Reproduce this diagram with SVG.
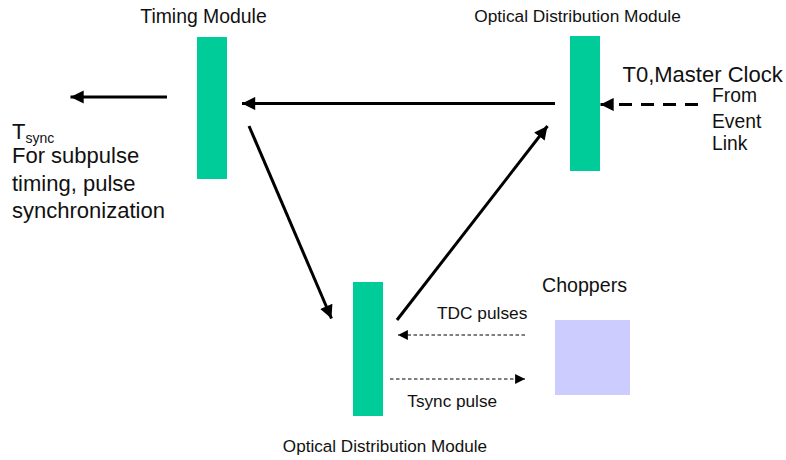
<svg xmlns="http://www.w3.org/2000/svg" width="786" height="460" viewBox="0 0 786 460">
<style>
text{font-family:"Liberation Sans",Arial,sans-serif;fill:#111}
.bar{fill:#00cc99}
.ln{stroke:#000;stroke-width:3;fill:none}
.dl{stroke:#000;stroke-width:1.1;fill:none;stroke-dasharray:3.5 2.5}
</style>
<defs>
<marker id="ah" viewBox="0 0 10 10" refX="10" refY="5" markerWidth="4.6" markerHeight="4.4" orient="auto" markerUnits="strokeWidth"><path d="M0,0L10,5L0,10z" fill="#000"/></marker>
<marker id="ahs" viewBox="0 0 10 10" refX="10" refY="5" markerWidth="9" markerHeight="9" orient="auto" markerUnits="strokeWidth"><path d="M0,0L10,5L0,10z" fill="#000"/></marker>
</defs>
<g id="timing-module">
<rect class="bar" x="197" y="37" width="30" height="142"/>
<text x="203.5" y="23" font-size="19.4" text-anchor="middle">Timing Module</text>
</g>
<g id="odm-top">
<rect class="bar" x="570" y="36" width="30" height="135"/>
<text x="577.5" y="22" font-size="17.3" text-anchor="middle">Optical Distribution Module</text>
</g>
<g id="odm-bottom">
<rect class="bar" x="353" y="282" width="30" height="134"/>
<text x="385" y="452" font-size="17.1" text-anchor="middle">Optical Distribution Module</text>
</g>
<g id="choppers">
<rect x="555" y="320" width="75" height="75" fill="#ccccff"/>
<text x="542" y="292" font-size="19.6">Choppers</text>
</g>
<g id="tsync-output">
<text x="12" y="139" font-size="22">T<tspan font-size="14" dy="4">sync</tspan></text>
<text x="12" y="163" font-size="22">For subpulse</text>
<text x="12" y="191" font-size="22">timing, pulse</text>
<text x="12" y="218" font-size="22">synchronization</text>
</g>
<g id="event-link">
<text x="622.5" y="82" font-size="22">T0,Master Clock</text>
<text x="712" y="102" font-size="19.3">From</text>
<text x="712" y="127.5" font-size="19.3">Event</text>
<text x="712" y="150" font-size="19.3">Link</text>
</g>
<g id="connectors">
<line class="ln" x1="167" y1="97" x2="70.5" y2="97" marker-end="url(#ah)"/>
<line class="ln" x1="555" y1="103.5" x2="242" y2="103.5" marker-end="url(#ah)"/>
<line class="ln" x1="249" y1="126" x2="331.5" y2="318.5" marker-end="url(#ah)"/>
<line class="ln" x1="397" y1="320" x2="547.5" y2="126" marker-end="url(#ah)"/>
<line class="ln" x1="698" y1="104.5" x2="600.5" y2="104.5" stroke-dasharray="13 9" marker-end="url(#ah)"/>
<line class="dl" x1="525" y1="335" x2="398" y2="335" marker-end="url(#ahs)"/>
<line class="dl" x1="390" y1="379" x2="525" y2="379" marker-end="url(#ahs)"/>
<text x="437" y="319" font-size="17.3">TDC pulses</text>
<text x="407.3" y="407" font-size="17.2">Tsync pulse</text>
</g>
</svg>
